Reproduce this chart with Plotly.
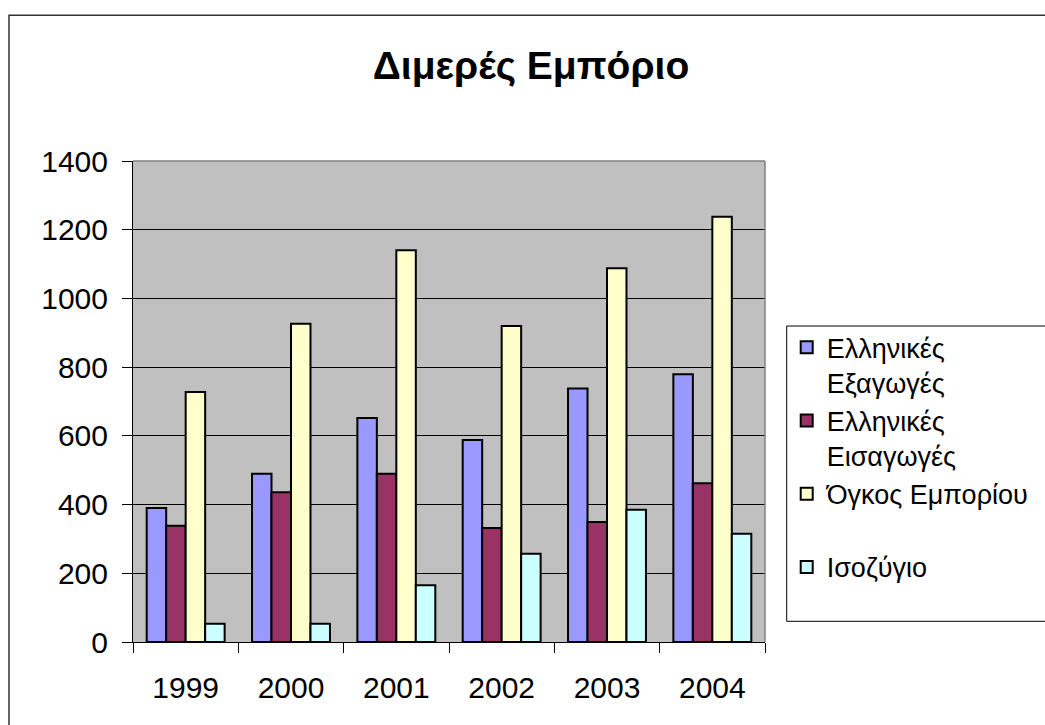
import plotly.graph_objects as go

years = ["1999", "2000", "2001", "2002", "2003", "2004"]
exports = [390, 490, 652, 588, 738, 779]
imports = [338, 436, 490, 332, 349, 462]
volume = [728, 926, 1140, 920, 1088, 1238]
balance = [53, 53, 165, 257, 385, 315]

series_names = ["Ελληνικές<br>Εξαγωγές", "Ελληνικές<br>Εισαγωγές",
                "Όγκος Εμπορίου<br>\u00a0", "Ισοζύγιο<br>\u00a0"]
series_values = [exports, imports, volume, balance]
series_colors = ["#9999FF", "#993366", "#FFFFCC", "#CCFFFF"]

W, H = 1045, 725
L, R, T, B = 133, 765, 160.7, 641.7

def px(x):
    return (x - L) / (R - L)

def py(y):
    return (B - y) / (B - T)

fig = go.Figure()
for name, vals, col in zip(series_names, series_values, series_colors):
    fig.add_trace(go.Bar(
        x=years, y=vals, name=name,
        marker=dict(color=col, line=dict(color="black", width=2)),
    ))

font = "Liberation Sans, Arial, sans-serif"
fig.update_layout(
    width=W, height=H,
    margin=dict(l=L, r=W - R, t=T, b=H - B, pad=0, autoexpand=False),
    paper_bgcolor="white",
    plot_bgcolor="#C0C0C0",
    barmode="group",
    bargap=0.26,
    bargroupgap=0,
    font=dict(family=font, color="black"),
    title=dict(
        text="<b>Διμερές Εμπόριο</b>",
        font=dict(family=font, size=39, color="black"),
        x=px(531), xanchor="center", xref="paper",
        y=1 - 65 / H, yanchor="middle", yref="container",
    ),
    showlegend=True,
    legend=dict(
        x=px(786.7), y=py(323), xanchor="left", yanchor="top",
        bgcolor="rgba(0,0,0,0)", borderwidth=0,
        font=dict(family=font, size=27, color="black"),
        valign="top",
        traceorder="normal",
    ),
    xaxis=dict(
        showline=True, linecolor="black", linewidth=1,
        ticks="outside", ticklen=10, tickcolor="black", tickwidth=1,
        tickson="boundaries",
        tickfont=dict(family=font, size=30, color="black"),
        ticklabelstandoff=19,
        showgrid=False,
    ),
    yaxis=dict(
        range=[0, 1400], dtick=200,
        showline=True, linecolor="black", linewidth=1,
        ticks="outside", ticklen=10, tickcolor="black", tickwidth=1,
        tickfont=dict(family=font, size=30, color="black"),
        ticklabelstandoff=8,
        showgrid=True, gridcolor="black", gridwidth=1,
        zeroline=False,
    ),
    shapes=[
        dict(type="line", xref="paper", yref="paper", x0=0, x1=1, y0=1, y1=1,
             line=dict(color="#808080", width=1.5)),
        dict(type="line", xref="paper", yref="paper", x0=1, x1=1, y0=0, y1=1,
             line=dict(color="#808080", width=1.5)),
        dict(type="rect", xref="paper", yref="paper",
             x0=px(9), x1=px(1080), y0=py(760), y1=py(15),
             line=dict(color="#333333", width=1.5), layer="below"),
        dict(type="rect", xref="paper", yref="paper",
             x0=px(786.7), x1=px(1080), y0=py(621), y1=py(325.7),
             line=dict(color="black", width=1), fillcolor="white"),
    ],
)

fig.write_html("out.html")
